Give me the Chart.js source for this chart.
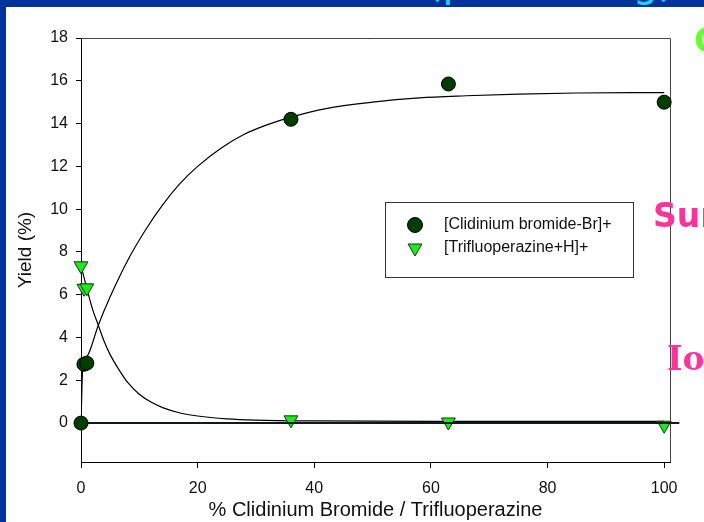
<!DOCTYPE html>
<html>
<head>
<meta charset="utf-8">
<script src="https://cdn.jsdelivr.net/npm/chart.js@4/dist/chart.umd.min.js"></script>
<style>
  html, body { margin: 0; padding: 0; }
  body { width: 704px; height: 522px; overflow: hidden; position: relative; background: #fff; }
  #wrap { position: absolute; left: 0; top: 0; width: 704px; height: 522px; }
  .band { position: absolute; background: #003399; }
  .side { position: absolute; font-family: 'DejaVu Sans', sans-serif; font-weight: bold; line-height: 1; white-space: nowrap; }
</style>
</head>
<body>
<div id="wrap"><canvas id="yieldChart" width="704" height="522"></canvas></div>
<div class="band" style="left:0;top:0;width:704px;height:7px"></div>
<div class="band" style="left:0;top:0;width:6px;height:522px"></div>
<div class="side" style="left:427px;top:-38px;font-size:40px;font-weight:normal;color:#22ccff">(pre-mixing)</div>
<div class="side" style="left:694px;top:24px;font-size:33px;color:#66ff33">Competition</div>
<div class="side" style="left:653px;top:199px;font-size:33px;color:#ff3399">Surface activity</div>
<div class="side" style="left:667px;top:342px;font-size:33px;color:#ff3399;font-family:'DejaVu Serif',serif">Ionization</div>
<script>
// measured points
const cbX = [0, 0.5, 1, 36, 63, 100];
const cbY = [0, 2.75, 2.8, 14.2, 15.85, 15.0];
const tfX = [0, 0.5, 1, 36, 63, 100];
const tfY = [7.35, 6.3, 6.32, 0.15, 0.05, -0.1];

// fitted curves
const cbFitX = [0, 0.3, 1, 3, 5, 8, 11, 14, 17, 20, 24, 28, 32, 36, 42, 50, 58, 66, 75, 85, 100];
const cbFitY = [0, 2.6, 3.1, 4.6, 5.9, 7.6, 9.0, 10.2, 11.2, 12.0, 12.85, 13.5, 13.95, 14.3, 14.7, 15.0, 15.2, 15.3, 15.38, 15.43, 15.45];
const tfFitX = [0, 1, 2, 3, 4, 5, 6.5, 8, 10, 12, 14, 17, 20, 25, 30, 40, 60, 100];
const tfFitY = [7.35, 6.3, 5.3, 4.55, 3.8, 3.2, 2.5, 1.9, 1.35, 0.98, 0.72, 0.47, 0.33, 0.2, 0.14, 0.1, 0.08, 0.08];

// zero baseline
const zeroX = [0, 102.6];
const zeroY = [0, 0];

const xTicks = [0, 20, 40, 60, 80, 100];
const yTicks = [0, 2, 4, 6, 8, 10, 12, 14, 16, 18];

const FONT = "'Liberation Sans', Arial, sans-serif";
const CB_FILL = '#003d00';
const TF_FILL = '#1ee81e';

const pts = (xs, ys) => xs.map((x, i) => ({ x, y: ys[i] }));

// top + right frame lines
const framePlugin = {
  id: 'frame',
  beforeDatasetsDraw(chart) {
    const a = chart.chartArea, ctx = chart.ctx;
    ctx.save();
    ctx.strokeStyle = '#444';
    ctx.lineWidth = 1;
    ctx.beginPath();
    ctx.moveTo(a.left, a.top + 0.5);
    ctx.lineTo(a.right + 0.5, a.top + 0.5);
    ctx.lineTo(a.right + 0.5, a.bottom);
    ctx.stroke();
    ctx.restore();
  }
};

// boxed legend inside the plot
const boxLegend = {
  id: 'boxLegend',
  afterDraw(chart) {
    const ctx = chart.ctx;
    const x0 = 385.5, y0 = 202.5, w = 248, h = 75;
    ctx.save();
    ctx.fillStyle = '#fff';
    ctx.fillRect(x0, y0, w, h);
    ctx.strokeStyle = '#333';
    ctx.lineWidth = 1;
    ctx.strokeRect(x0, y0, w, h);

    ctx.beginPath();
    ctx.arc(415, 225, 7.5, 0, Math.PI * 2);
    ctx.fillStyle = CB_FILL;
    ctx.fill();
    ctx.strokeStyle = '#000';
    ctx.stroke();

    const r = 8;
    ctx.beginPath();
    ctx.moveTo(415, 248 + r);
    ctx.lineTo(415 - r * 0.866, 248 - r / 2);
    ctx.lineTo(415 + r * 0.866, 248 - r / 2);
    ctx.closePath();
    ctx.fillStyle = TF_FILL;
    ctx.fill();
    ctx.strokeStyle = '#0a3a0a';
    ctx.stroke();

    ctx.fillStyle = '#111';
    ctx.font = '16px ' + FONT;
    ctx.textBaseline = 'middle';
    ctx.fillText('[Clidinium bromide-Br]+', 444, 225);
    ctx.fillText('[Trifluoperazine+H]+', 444, 248);
    ctx.restore();
  }
};

new Chart(document.getElementById('yieldChart'), {
  type: 'scatter',
  data: {
    datasets: [
      {
        label: '[Clidinium bromide-Br]+',
        data: pts(cbX, cbY),
        pointStyle: 'circle',
        pointRadius: 7,
        pointBackgroundColor: CB_FILL,
        pointBorderColor: '#000',
        pointBorderWidth: 1,
        clip: false
      },
      {
        label: 'zero',
        data: pts(zeroX, zeroY),
        showLine: true,
        borderColor: '#15152a',
        borderWidth: 2,
        pointRadius: 0,
        clip: false
      },
      {
        label: '[Trifluoperazine+H]+',
        data: pts(tfX, tfY),
        pointStyle: 'triangle',
        rotation: 180,
        pointRadius: 8,
        pointBackgroundColor: TF_FILL,
        pointBorderColor: '#0a3a0a',
        pointBorderWidth: 1,
        clip: false
      },
      {
        label: 'cb fit',
        data: pts(cbFitX, cbFitY),
        showLine: true,
        borderColor: '#000',
        borderWidth: 1.2,
        pointRadius: 0,
        cubicInterpolationMode: 'monotone'
      },
      {
        label: 'tf fit',
        data: pts(tfFitX, tfFitY),
        showLine: true,
        borderColor: '#000',
        borderWidth: 1.2,
        pointRadius: 0,
        cubicInterpolationMode: 'monotone'
      }
    ]
  },
  options: {
    responsive: false,
    animation: false,
    layout: { padding: { top: 38, right: 34, left: 0, bottom: 0 } },
    plugins: { legend: { display: false }, tooltip: { enabled: false } },
    scales: {
      x: {
        type: 'linear',
        min: 0,
        max: 101,
        afterBuildTicks: s => { s.ticks = xTicks.map(v => ({ value: v })); },
        afterFit: s => { s.height = 60; },
        grid: { drawOnChartArea: false, drawTicks: true, tickLength: 6, color: '#000' },
        border: { color: '#000', width: 1 },
        ticks: { color: '#111', font: { family: FONT, size: 16 }, padding: 11, maxRotation: 0 },
        title: {
          display: true,
          text: '% Clidinium Bromide / Trifluoperazine',
          color: '#111',
          font: { family: FONT, size: 20 },
          padding: { top: 0, bottom: 0 }
        }
      },
      y: {
        type: 'linear',
        min: -1.82,
        max: 18,
        afterBuildTicks: s => { s.ticks = yTicks.map(v => ({ value: v })); },
        afterFit: s => { s.width = 81; },
        grid: { drawOnChartArea: false, drawTicks: true, tickLength: 5, color: '#000' },
        border: { color: '#000', width: 1 },
        ticks: { color: '#111', font: { family: FONT, size: 16 }, padding: 8 },
        title: {
          display: true,
          text: 'Yield (%)',
          color: '#111',
          font: { family: FONT, size: 19 },
          padding: { top: 14, bottom: 14 }
        }
      }
    }
  },
  plugins: [framePlugin, boxLegend]
});
</script>
</body>
</html>
